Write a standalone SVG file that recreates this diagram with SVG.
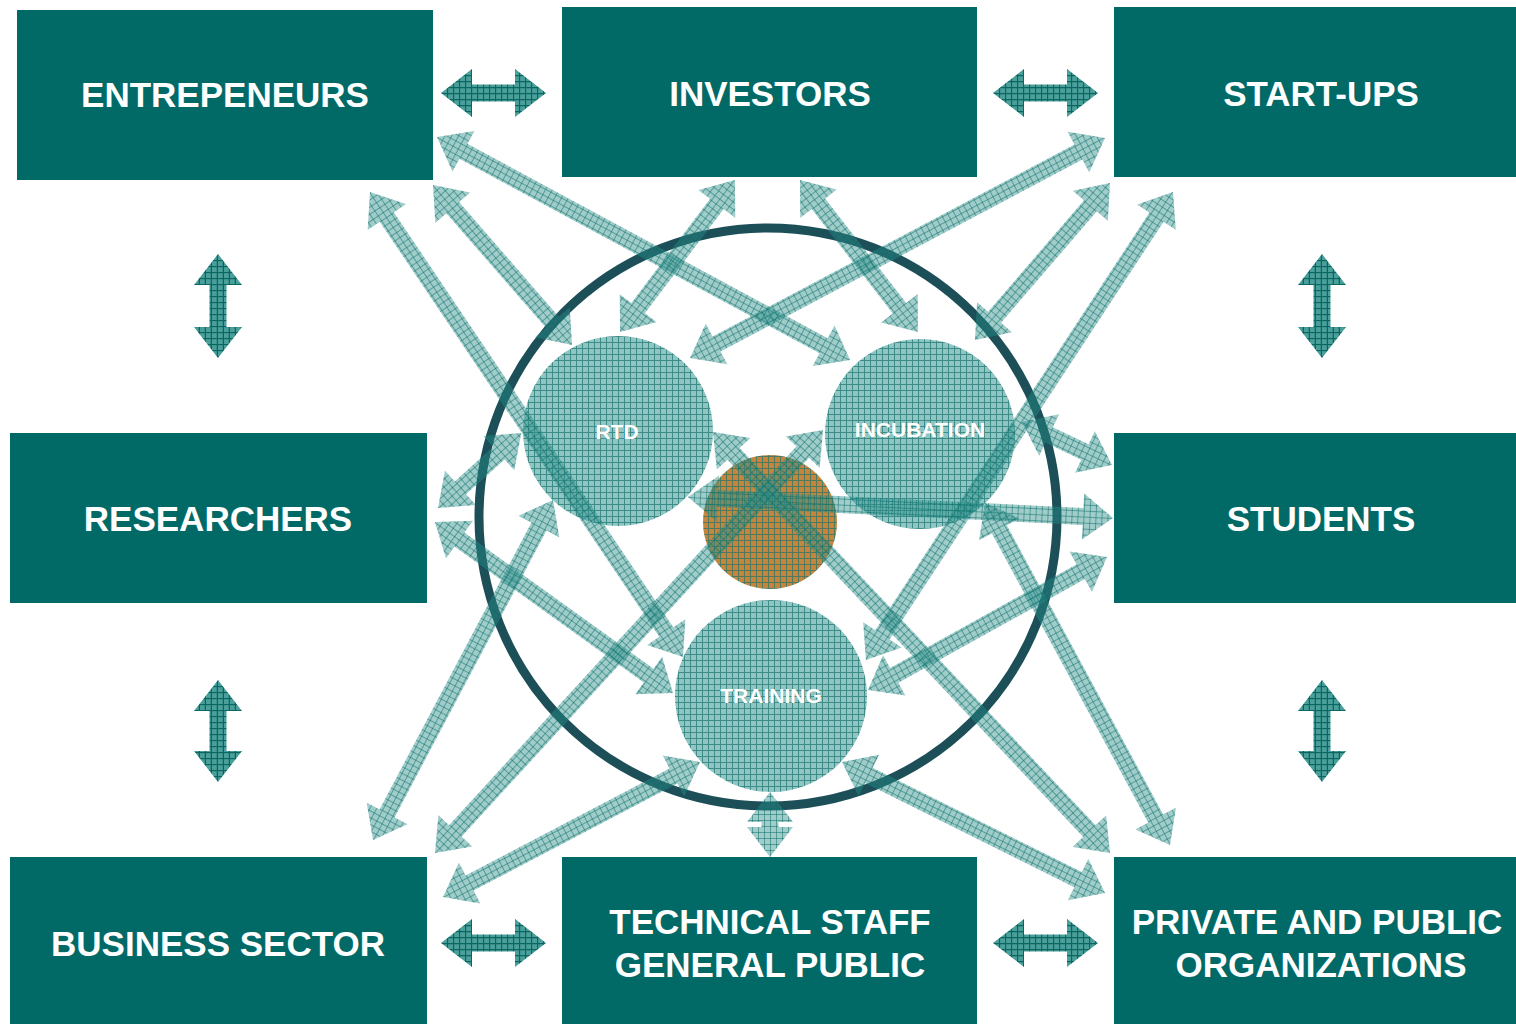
<svg xmlns="http://www.w3.org/2000/svg" width="1516" height="1024" viewBox="0 0 1516 1024">
<defs>
<pattern id="pArrow" width="6" height="6" patternUnits="userSpaceOnUse">
<rect width="6" height="6" fill="#2c8f8a" fill-opacity="0.45"/>
<path d="M0,0.5H6M0.5,0V6" stroke="#086b66" stroke-width="1" stroke-opacity="0.5"/>
</pattern>
<pattern id="pDark" width="6" height="6" patternUnits="userSpaceOnUse">
<rect width="6" height="6" fill="#4a9f9a"/>
<path d="M0,0.5H6M0.5,0V6" stroke="#0a6661" stroke-width="1.3"/>
</pattern>
<pattern id="pCircle" width="6" height="6" patternUnits="userSpaceOnUse">
<rect width="6" height="6" fill="#8fc5c2"/>
<path d="M0,0.5H6M0.5,0V6" stroke="#3d8c88" stroke-width="1"/>
</pattern>
<pattern id="pOrange" width="6" height="6" patternUnits="userSpaceOnUse">
<rect width="6" height="6" fill="#c5853c"/>
<path d="M0,0.5H6M0.5,0V6" stroke="#4f7a5e" stroke-width="1"/>
</pattern>
<style>
.box{fill:#016966}
.lbl{font-family:"Liberation Sans",Arial,sans-serif;font-weight:bold;font-size:35px;fill:#fff;text-anchor:middle}
.clbl{font-family:"Liberation Sans",Arial,sans-serif;font-weight:bold;font-size:21px;fill:#fff;text-anchor:middle}
.arr{fill:url(#pArrow)}
.darr{fill:url(#pDark)}
.circ{fill:url(#pCircle)}
</style>
</defs>
<rect width="1516" height="1024" fill="#fff"/>

<g id="entrepeneurs"><rect class="box" x="17" y="10" width="416" height="170"/><text class="lbl" x="225" y="107">ENTREPENEURS</text></g>
<g id="investors"><rect class="box" x="562" y="7" width="415" height="170"/><text class="lbl" x="770" y="106">INVESTORS</text></g>
<g id="start-ups"><rect class="box" x="1114" y="7" width="416" height="170"/><text class="lbl" x="1321" y="106">START-UPS</text></g>
<g id="researchers"><rect class="box" x="10" y="433" width="417" height="170"/><text class="lbl" x="218" y="531">RESEARCHERS</text></g>
<g id="students"><rect class="box" x="1114" y="433" width="416" height="170"/><text class="lbl" x="1321" y="531">STUDENTS</text></g>
<g id="business-sector"><rect class="box" x="10" y="857" width="417" height="170"/><text class="lbl" x="218" y="956">BUSINESS SECTOR</text></g>
<g id="technical-staff"><rect class="box" x="562" y="857" width="415" height="170"/><text class="lbl" x="770" y="934">TECHNICAL STAFF</text><text class="lbl" x="770" y="977">GENERAL PUBLIC</text></g>
<g id="private-public"><rect class="box" x="1114" y="857" width="416" height="170"/><text class="lbl" x="1317" y="934">PRIVATE AND PUBLIC</text><text class="lbl" x="1321" y="977">ORGANIZATIONS</text></g>

<g id="hub"><circle cx="768" cy="517" r="289" fill="none" stroke="#1d4f59" stroke-width="9"/></g>
<g id="rtd"><circle class="circ" cx="618" cy="431" r="95"/><text class="clbl" x="617" y="439">RTD</text></g>
<g id="incubation"><circle class="circ" cx="920" cy="434" r="95"/><text class="clbl" x="920" y="437">INCUBATION</text></g>
<g id="training"><circle class="circ" cx="771" cy="696" r="96"/><text class="clbl" x="771" y="703">TRAINING</text></g>
<g id="core"><circle cx="770" cy="522" r="67" fill="url(#pOrange)"/></g>

<g id="connectors">
<path class="darr" transform="translate(441,93)" d="M0,0L31,-24L31,-8.5L74,-8.5L74,-24L105,0L74,24L74,8.5L31,8.5L31,24Z"/>
<path class="darr" transform="translate(993,93)" d="M0,0L31,-24L31,-8.5L74,-8.5L74,-24L105,0L74,24L74,8.5L31,8.5L31,24Z"/>
<path class="darr" transform="translate(441,943)" d="M0,0L31,-24L31,-8.5L74,-8.5L74,-24L105,0L74,24L74,8.5L31,8.5L31,24Z"/>
<path class="darr" transform="translate(993,943)" d="M0,0L31,-24L31,-8.5L74,-8.5L74,-24L105,0L74,24L74,8.5L31,8.5L31,24Z"/>
<path class="darr" transform="translate(218,254) rotate(90)" d="M0,0L31,-24L31,-8.5L73,-8.5L73,-24L104,0L73,24L73,8.5L31,8.5L31,24Z"/>
<path class="darr" transform="translate(218,680) rotate(90)" d="M0,0L31,-24L31,-8.5L71,-8.5L71,-24L102,0L71,24L71,8.5L31,8.5L31,24Z"/>
<path class="darr" transform="translate(1322,254) rotate(90)" d="M0,0L31,-24L31,-8.5L73,-8.5L73,-24L104,0L73,24L73,8.5L31,8.5L31,24Z"/>
<path class="darr" transform="translate(1322,680) rotate(90)" d="M0,0L31,-24L31,-8.5L71,-8.5L71,-24L102,0L71,24L71,8.5L31,8.5L31,24Z"/>

<path class="arr" transform="translate(437,137) rotate(28.37)" d="M0,0L30,-23L30,-8.5L439.4,-8.5L439.4,-23L469.4,0L439.4,23L439.4,8.5L30,8.5L30,23Z"/>
<path class="arr" transform="translate(433,185) rotate(49)" d="M0,0L30,-23L30,-8.5L181.9,-8.5L181.9,-23L211.9,0L181.9,23L181.9,8.5L30,8.5L30,23Z"/>
<path class="arr" transform="translate(370,192) rotate(56.05)" d="M0,0L30,-23L30,-8.5L530.5,-8.5L530.5,-23L560.5,0L530.5,23L530.5,8.5L30,8.5L30,23Z"/>
<path class="arr" transform="translate(735,180) rotate(127.1)" d="M0,0L30,-23L30,-8.5L160.6,-8.5L160.6,-23L190.6,0L160.6,23L160.6,8.5L30,8.5L30,23Z"/>
<path class="arr" transform="translate(800,180) rotate(52.2)" d="M0,0L30,-23L30,-8.5L162.4,-8.5L162.4,-23L192.4,0L162.4,23L162.4,8.5L30,8.5L30,23Z"/>
<path class="arr" transform="translate(1105,138) rotate(152.07)" d="M0,0L30,-23L30,-8.5L439.7,-8.5L439.7,-23L469.7,0L439.7,23L439.7,8.5L30,8.5L30,23Z"/>
<path class="arr" transform="translate(1110,183) rotate(130.7)" d="M0,0L30,-23L30,-8.5L177.1,-8.5L177.1,-23L207.1,0L177.1,23L177.1,8.5L30,8.5L30,23Z"/>
<path class="arr" transform="translate(1173,192) rotate(123.27)" d="M0,0L30,-23L30,-8.5L529.7,-8.5L529.7,-23L559.7,0L529.7,23L529.7,8.5L30,8.5L30,23Z"/>
<path class="arr" transform="translate(438,508) rotate(-42)" d="M0,0L30,-23L30,-8.5L82,-8.5L82,-23L112,0L82,23L82,8.5L30,8.5L30,23Z"/>
<path class="arr" transform="translate(435,522) rotate(35.7)" d="M0,0L30,-23L30,-8.5L263.1,-8.5L263.1,-23L293.1,0L263.1,23L263.1,8.5L30,8.5L30,23Z"/>
<path class="arr" transform="translate(1022,422) rotate(25.5)" d="M0,0L30,-23L30,-8.5L69.7,-8.5L69.7,-23L99.7,0L69.7,23L69.7,8.5L30,8.5L30,23Z"/>
<path class="arr" transform="translate(688,497) rotate(2.83)" d="M0,0L30,-23L30,-8.5L395.5,-8.5L395.5,-23L425.5,0L395.5,23L395.5,8.5L30,8.5L30,23Z"/>
<path class="arr" transform="translate(1107,557) rotate(150.9)" d="M0,0L30,-23L30,-8.5L243.5,-8.5L243.5,-23L273.5,0L243.5,23L243.5,8.5L30,8.5L30,23Z"/>
<path class="arr" transform="translate(373,840) rotate(-62.1)" d="M0,0L30,-23L30,-8.5L354.7,-8.5L354.7,-23L384.7,0L354.7,23L354.7,8.5L30,8.5L30,23Z"/>
<path class="arr" transform="translate(435,853) rotate(-47.47)" d="M0,0L30,-23L30,-8.5L544,-8.5L544,-23L574,0L544,23L544,8.5L30,8.5L30,23Z"/>
<path class="arr" transform="translate(443,897) rotate(-27.71)" d="M0,0L30,-23L30,-8.5L260.3,-8.5L260.3,-23L290.3,0L260.3,23L260.3,8.5L30,8.5L30,23Z"/>
<path class="arr" transform="translate(1105,893) rotate(-153.53)" d="M0,0L30,-23L30,-8.5L263.8,-8.5L263.8,-23L293.8,0L263.8,23L263.8,8.5L30,8.5L30,23Z"/>
<path class="arr" transform="translate(1110,853) rotate(-133.32)" d="M0,0L30,-23L30,-8.5L548.7,-8.5L548.7,-23L578.7,0L548.7,23L548.7,8.5L30,8.5L30,23Z"/>
<path class="arr" transform="translate(1170,845) rotate(-118.4)" d="M0,0L30,-23L30,-8.5L358.8,-8.5L358.8,-23L388.8,0L358.8,23L358.8,8.5L30,8.5L30,23Z"/>
<path class="arr" transform="translate(770,857) rotate(-90)" d="M0,0L30,-23L30,-8.5L35,-8.5L35,-23L65,0L35,23L35,8.5L30,8.5L30,23Z"/>
</g>
</svg>
